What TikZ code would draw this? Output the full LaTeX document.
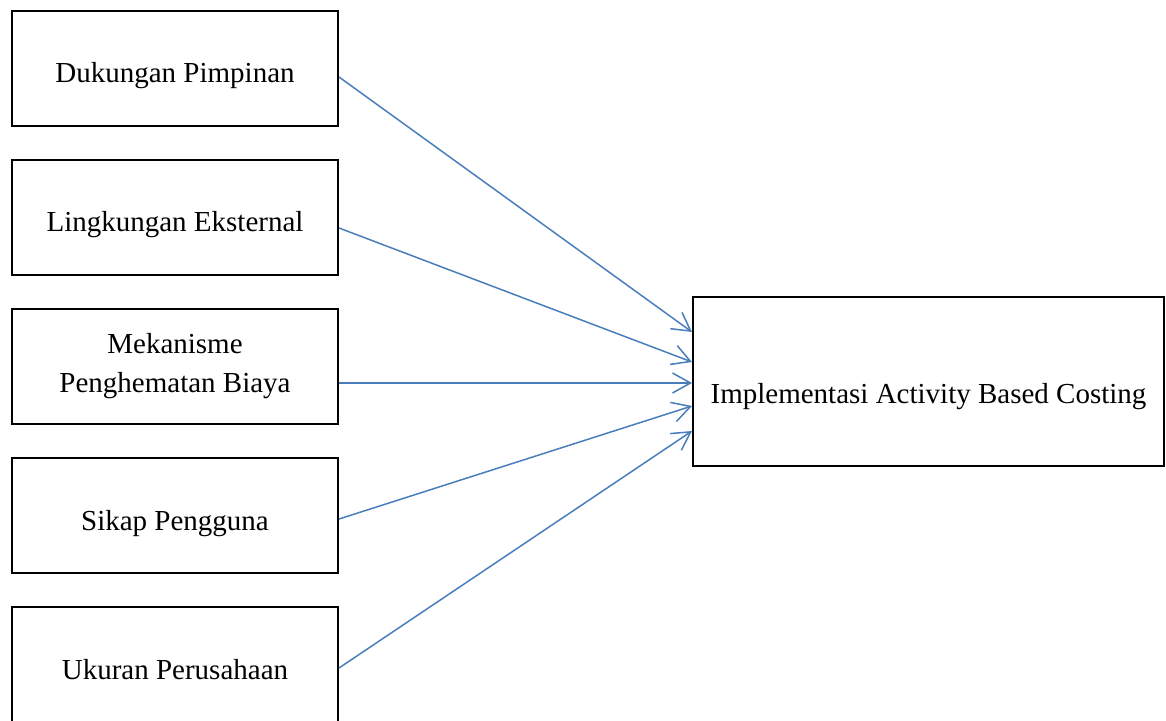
\documentclass[tikz,border=0pt]{standalone}
\usepackage{fontspec}
\setmainfont{Liberation Serif}
\usepackage{xcolor}
\usetikzlibrary{arrows.meta}
\definecolor{linkblue}{HTML}{4A7EBB}

\begin{document}
\begin{tikzpicture}[x=0.5pt,y=-0.5pt,->,>={Straight Barb[length=9pt,width=10pt]},
                    node distance=74.5pt,line width=0.75pt]
  \tikzstyle{every node}=[font=\fontsize{14.5}{19.5}\selectfont]
  \tikzstyle{factor}=[draw=black,line width=1pt,minimum width=163pt,minimum height=57.5pt,
                      text height=16pt,text depth=1.5pt]
  \tikzstyle{target}=[draw=black,line width=1pt,minimum width=235.5pt,minimum height=84.5pt,
                      text height=23pt,text depth=1.5pt]

  \useasboundingbox (0,0) rectangle (1166,721);

  \node[factor]        (DP) at (175,68.5)  {Dukungan Pimpinan};
  \node[factor]        (LE) [below of=DP]  {Lingkungan Eksternal};
  \node[factor,text height=,text depth=,align=center]
                       (MB) [below of=LE]  {Mekanisme\\Penghematan Biaya};
  \node[factor]        (SP) [below of=MB]  {Sikap Pengguna};
  \node[factor]        (UP) [below of=SP]  {Ukuran Perusahaan};
  \node[target]        (ABC) at (928.5,381.5) {Implementasi Activity Based Costing};

  \path[linkblue]
        ([yshift=-4.25pt]DP.east) edge ([yshift=24.75pt]ABC.west)
        ([yshift=-5.25pt]LE.east) edge ([yshift=9.75pt]ABC.west)
        ([yshift=-8.25pt]MB.east) edge ([yshift=-0.75pt]ABC.west)
        ([yshift=-1.75pt]SP.east) edge ([yshift=-12.25pt]ABC.west)
        ([yshift=-1.75pt]UP.east) edge ([yshift=-24.75pt]ABC.west);
\end{tikzpicture}
\end{document}
